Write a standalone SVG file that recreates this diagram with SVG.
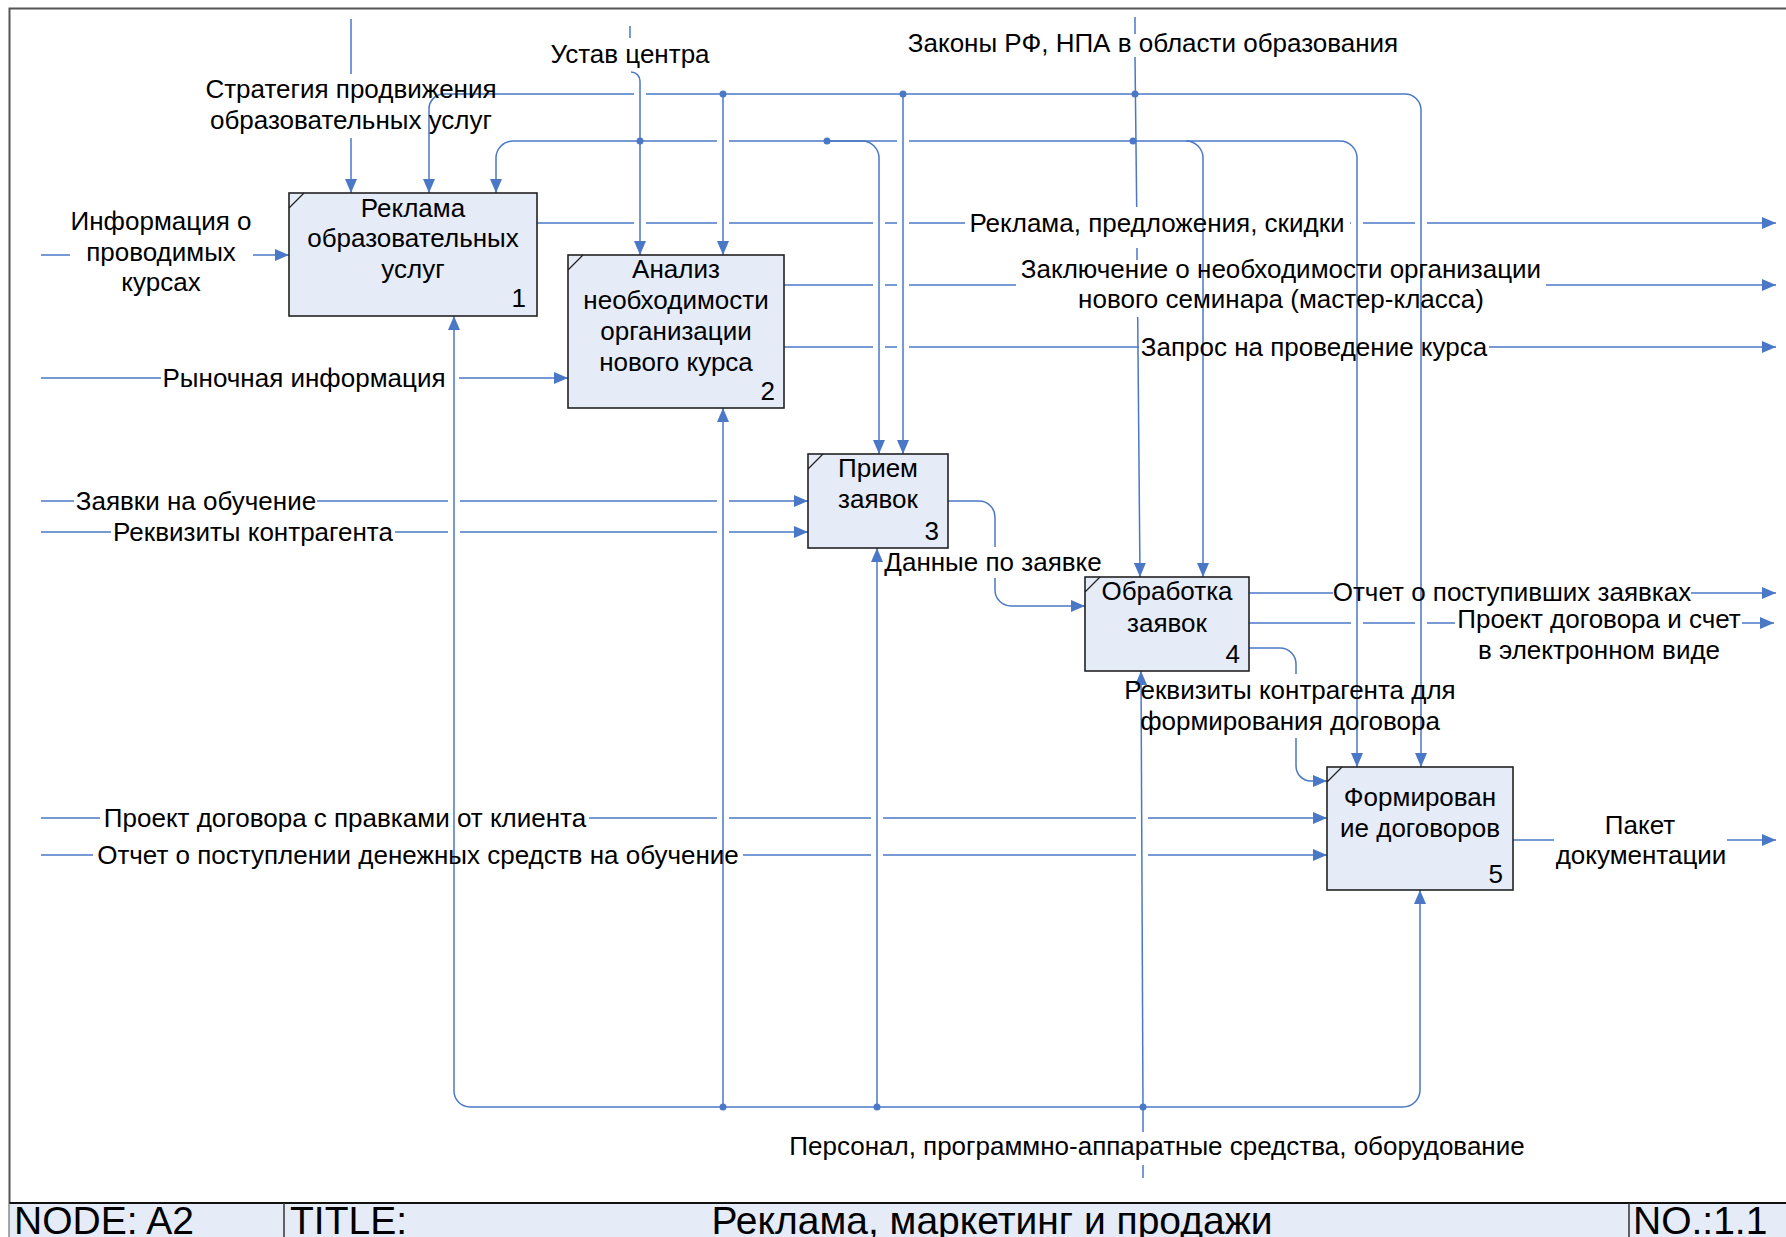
<svg xmlns="http://www.w3.org/2000/svg" width="1786" height="1237" viewBox="0 0 1786 1237">
  <defs>
    <marker id="arr" markerUnits="userSpaceOnUse" markerWidth="14" markerHeight="12" refX="14" refY="6" orient="auto">
      <path d="M0,0 L14,6 L0,12 z" fill="#4a78c6"/>
    </marker>
    <style>
      .ln { fill: none; stroke: #4a78c6; stroke-width: 1.5; }
      .ar { marker-end: url(#arr); }
      .dot { fill: #4a78c6; }
      .gap { fill: #ffffff; }
      .box { fill: #e5ebf7; stroke: #222222; stroke-width: 1.6; }
      .tick { stroke: #222222; stroke-width: 1.2; }
      text { font-family: "Liberation Sans", Arial, sans-serif; font-size: 26px; fill: #000000; }
      .m { text-anchor: middle; }
      .num { text-anchor: end; }
      .foot { font-size: 39px; }
    </style>
  </defs>

  <rect width="1786" height="1237" fill="#ffffff"/>

  <!-- sheet frame -->
  <g id="frame">
    <path d="M9.5,1237 V8.5 H1786" fill="none" stroke="#555555" stroke-width="2"/>
  </g>

  <!-- arrows -->
  <g id="connectors">
    <!-- horizontal runs -->
    <g id="horizontals">
      <path class="ln" d="M444,94 H1405"/>
      <path class="ln" d="M513,141 H1340"/>
      <path class="ln" d="M41,255 H70"/>
      <path class="ln ar" d="M253,255 H289"/>
      <path class="ln" d="M41,378 H161"/>
      <path class="ln ar" d="M459,378 H568"/>
      <path class="ln" d="M41,501 H74"/>
      <path class="ln ar" d="M317,501 H808"/>
      <path class="ln" d="M41,532 H111"/>
      <path class="ln ar" d="M395,532 H808"/>
      <path class="ln" d="M41,818 H100"/>
      <path class="ln ar" d="M589,818 H1327"/>
      <path class="ln" d="M41,855 H93"/>
      <path class="ln ar" d="M743,855 H1327"/>
      <path class="ln" d="M537,223 H965"/>
      <path class="ln ar" d="M1350,223 H1776"/>
      <path class="ln" d="M784,285 H1016"/>
      <path class="ln ar" d="M1546,285 H1776"/>
      <path class="ln" d="M784,347 H1139"/>
      <path class="ln ar" d="M1489,347 H1776"/>
      <path class="ln" d="M1249,593 H1333"/>
      <path class="ln ar" d="M1691,593 H1776"/>
      <path class="ln" d="M1249,623 H1455"/>
      <path class="ln ar" d="M1742,623 H1774"/>
      <path class="ln" d="M1512,840 H1554"/>
      <path class="ln ar" d="M1727,840 H1776"/>
      <path class="ln" d="M470,1107 H1403"/>
    </g>

    <!-- breaks where vertical runs pass over horizontal ones -->
    <g id="crossings">
      <rect class="gap" x="634" y="91" width="12" height="6"/>
      <rect class="gap" x="717" y="138" width="12" height="6"/>
      <rect class="gap" x="897" y="138" width="12" height="6"/>
      <rect class="gap" x="634" y="220" width="12" height="6"/>
      <rect class="gap" x="717" y="220" width="12" height="6"/>
      <rect class="gap" x="873" y="220" width="12" height="6"/>
      <rect class="gap" x="897" y="220" width="12" height="6"/>
      <rect class="gap" x="1351" y="220" width="12" height="6"/>
      <rect class="gap" x="1415" y="220" width="12" height="6"/>
      <rect class="gap" x="873" y="282" width="12" height="6"/>
      <rect class="gap" x="897" y="282" width="12" height="6"/>
      <rect class="gap" x="873" y="344" width="12" height="6"/>
      <rect class="gap" x="897" y="344" width="12" height="6"/>
      <rect class="gap" x="448" y="498" width="12" height="6"/>
      <rect class="gap" x="717" y="498" width="12" height="6"/>
      <rect class="gap" x="448" y="529" width="12" height="6"/>
      <rect class="gap" x="717" y="529" width="12" height="6"/>
      <rect class="gap" x="717" y="815" width="12" height="6"/>
      <rect class="gap" x="871" y="815" width="12" height="6"/>
      <rect class="gap" x="1136" y="815" width="12" height="6"/>
      <rect class="gap" x="871" y="852" width="12" height="6"/>
      <rect class="gap" x="1136" y="852" width="12" height="6"/>
      <rect class="gap" x="1351" y="620" width="12" height="6"/>
      <rect class="gap" x="1415" y="620" width="12" height="6"/>
    </g>

    <!-- controls -->
    <path class="ln" d="M351,19 V74"/>
    <path class="ln ar" d="M351,138 V193"/>
    <path class="ln ar" d="M444,94 A15,15 0 0 0 429,109 V193"/>
    <path class="ln ar" d="M513,141 A17,17 0 0 0 496,158 V193"/>
    <path class="ln" d="M630,26 V38"/>
    <path class="ln ar" d="M631,72 A9,9 0 0 1 640,81 V255"/>
    <path class="ln ar" d="M723,94 V255"/>
    <path class="ln ar" d="M827,141 H862 A17,17 0 0 1 879,158 V454"/>
    <path class="ln ar" d="M903,94 V454"/>
    <path class="ln" d="M1135,17 V34"/>
    <path class="ln" d="M1135,57 L1136.7,207"/>
    <path class="ln" d="M1137,248 V260"/>
    <path class="ln ar" d="M1137.7,317 L1140,577"/>
    <path class="ln ar" d="M1186,141 A17,17 0 0 1 1203,158 V577"/>
    <path class="ln ar" d="M1340,141 A17,17 0 0 1 1357,158 V767"/>
    <path class="ln ar" d="M1405,94 A16,16 0 0 1 1421,110 V767"/>

    <!-- links between activities -->
    <path class="ln" d="M948,501 H979 A16,16 0 0 1 995,517 V547"/>
    <path class="ln ar" d="M995,578 V590 A16,16 0 0 0 1011,606 H1085"/>
    <path class="ln" d="M1249,648 H1280 A16,16 0 0 1 1296,664 V674"/>
    <path class="ln ar" d="M1296,738 V766 A15,15 0 0 0 1311,781 H1327"/>

    <!-- mechanisms -->
    <path class="ln ar" d="M470,1107 A16,16 0 0 1 454,1091 V316"/>
    <path class="ln ar" d="M1403,1107 A17,17 0 0 0 1420,1090 V890"/>
    <path class="ln ar" d="M723,1107 V408"/>
    <path class="ln ar" d="M877,1107 V548"/>
    <path class="ln ar" d="M1143,1107 L1141,671"/>
    <path class="ln" d="M1143,1107 V1132"/>
    <path class="ln" d="M1143,1165 V1178"/>

    <!-- junctions -->
    <circle class="dot" cx="723" cy="94" r="3.5"/>
    <circle class="dot" cx="903" cy="94" r="3.5"/>
    <circle class="dot" cx="1135" cy="94" r="3.5"/>
    <circle class="dot" cx="640" cy="141" r="3.5"/>
    <circle class="dot" cx="827" cy="141" r="3.5"/>
    <circle class="dot" cx="1133" cy="141" r="3.5"/>
    <circle class="dot" cx="723" cy="1107" r="3.5"/>
    <circle class="dot" cx="877" cy="1107" r="3.5"/>
    <circle class="dot" cx="1143" cy="1107" r="3.5"/>
  </g>

  <!-- activity boxes -->
  <g id="node-1">
    <rect class="box" x="289" y="193" width="248" height="123"/>
    <line class="tick" x1="289" y1="208" x2="304" y2="193"/>
    <text class="m" x="413" y="217">Реклама</text>
    <text class="m" x="413" y="247">образовательных</text>
    <text class="m" x="413" y="278">услуг</text>
    <text class="num" x="526" y="307">1</text>
  </g>
  <g id="node-2">
    <rect class="box" x="568" y="255" width="216" height="153"/>
    <line class="tick" x1="568" y1="270" x2="583" y2="255"/>
    <text class="m" x="676" y="278">Анализ</text>
    <text class="m" x="676" y="309">необходимости</text>
    <text class="m" x="676" y="340">организации</text>
    <text class="m" x="676" y="371">нового курса</text>
    <text class="num" x="775" y="400">2</text>
  </g>
  <g id="node-3">
    <rect class="box" x="808" y="454" width="140" height="94"/>
    <line class="tick" x1="808" y1="469" x2="823" y2="454"/>
    <text class="m" x="878" y="477">Прием</text>
    <text class="m" x="878" y="508">заявок</text>
    <text class="num" x="939" y="540">3</text>
  </g>
  <g id="node-4">
    <rect class="box" x="1085" y="577" width="164" height="94"/>
    <line class="tick" x1="1085" y1="592" x2="1100" y2="577"/>
    <text class="m" x="1167" y="600">Обработка</text>
    <text class="m" x="1167" y="632">заявок</text>
    <text class="num" x="1240" y="663">4</text>
  </g>
  <g id="node-5">
    <rect class="box" x="1327" y="767" width="186" height="123"/>
    <line class="tick" x1="1327" y1="782" x2="1342" y2="767"/>
    <text class="m" x="1420" y="806">Формирован</text>
    <text class="m" x="1420" y="837">ие договоров</text>
    <text class="num" x="1503" y="883">5</text>
  </g>

  <!-- arrow labels -->
  <g id="labels">
    <text class="m" x="351" y="98">Стратегия продвижения</text>
    <text class="m" x="351" y="129">образовательных услуг</text>
    <text class="m" x="630" y="63">Устав центра</text>
    <text class="m" x="1153" y="52">Законы РФ, НПА в области образования</text>
    <text class="m" x="161" y="230">Информация о</text>
    <text class="m" x="161" y="261">проводимых</text>
    <text class="m" x="161" y="291">курсах</text>
    <text class="m" x="304" y="387">Рыночная информация</text>
    <text class="m" x="196" y="510">Заявки на обучение</text>
    <text class="m" x="253" y="541">Реквизиты контрагента</text>
    <text class="m" x="345" y="827">Проект договора с правками от клиента</text>
    <text class="m" x="418" y="864">Отчет о поступлении денежных средств на обучение</text>
    <text class="m" x="1157" y="232">Реклама, предложения, скидки</text>
    <text class="m" x="1281" y="278">Заключение о необходимости организации</text>
    <text class="m" x="1281" y="308">нового семинара (мастер-класса)</text>
    <text class="m" x="1314" y="356">Запрос на проведение курса</text>
    <text class="m" x="993" y="571">Данные по заявке</text>
    <text class="m" x="1512" y="601">Отчет о поступивших заявках</text>
    <text class="m" x="1599" y="628">Проект договора и счет</text>
    <text class="m" x="1599" y="659">в электронном виде</text>
    <text class="m" x="1290" y="699">Реквизиты контрагента для</text>
    <text class="m" x="1290" y="730">формирования договора</text>
    <text class="m" x="1640" y="834">Пакет</text>
    <text class="m" x="1641" y="864">документации</text>
    <text class="m" x="1157" y="1155">Персонал, программно-аппаратные средства, оборудование</text>
  </g>

  <!-- title block -->
  <g id="footer">
    <rect x="9.5" y="1203" width="1777" height="40" fill="#e5ebf7"/>
    <line x1="9.5" y1="1203" x2="1786" y2="1203" stroke="#111111" stroke-width="2"/>
    <line x1="284" y1="1203" x2="284" y2="1237" stroke="#333333" stroke-width="1.5"/>
    <line x1="1629" y1="1203" x2="1629" y2="1237" stroke="#333333" stroke-width="1.5"/>
    <text class="foot" x="14" y="1234">NODE: A2</text>
    <text class="foot" x="290" y="1234">TITLE:</text>
    <text class="foot m" x="992" y="1234">Реклама, маркетинг и продажи</text>
    <text class="foot" x="1633" y="1234">NO.:1.1</text>
  </g>
</svg>
